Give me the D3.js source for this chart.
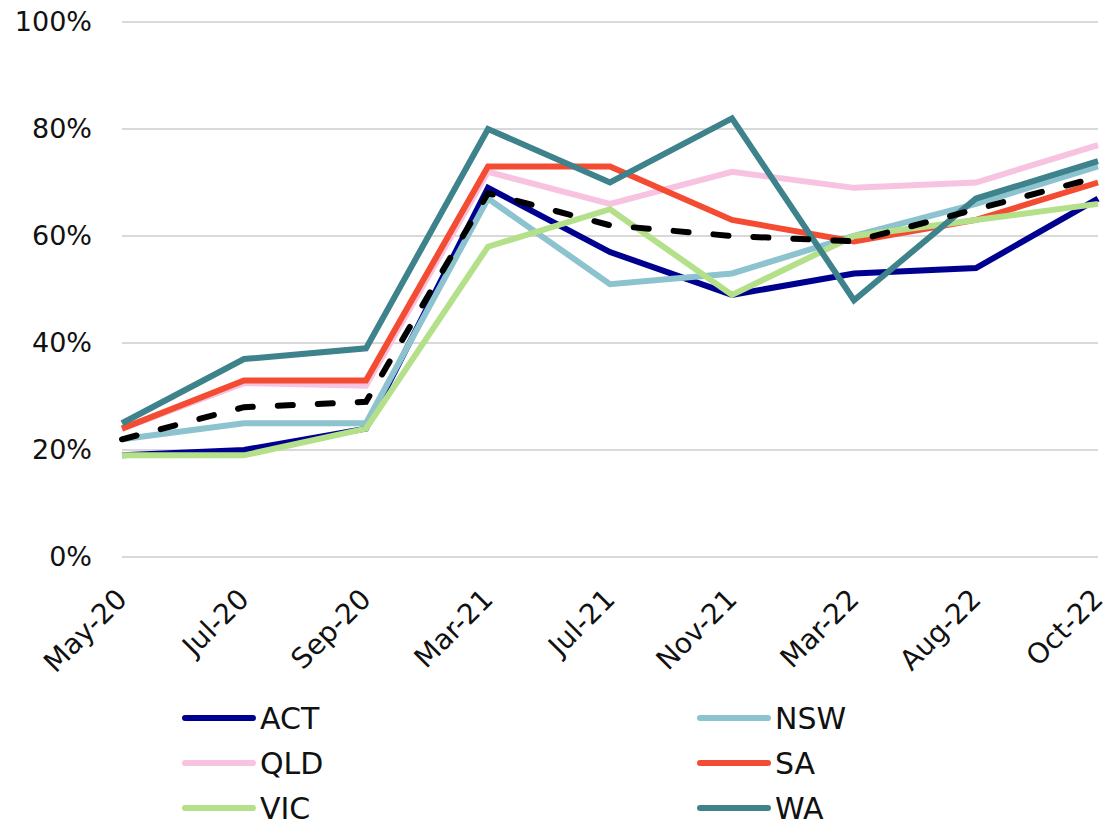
<!DOCTYPE html>
<html>
<head>
<meta charset="utf-8">
<script src="https://cdn.jsdelivr.net/npm/d3@7"></script>
<style>
body { margin: 0; background: #fff; }
</style>
</head>
<body>
<div id="chart"></div>
<script>
// data
var categories = ["May-20", "Jul-20", "Sep-20", "Mar-21", "Jul-21", "Nov-21", "Mar-22", "Aug-22", "Oct-22"];
var actValues = [19, 20, 24, 69, 57, 49, 53, 54, 67];
var nswValues = [22, 25, 25, 67, 51, 53, 60, 66, 73];
var qldValues = [24, 32.5, 32, 72, 66, 72, 69, 70, 77];
var saValues  = [24, 33, 33, 73, 73, 63, 59, 63, 70];
var vicValues = [19, 19, 24, 58, 65, 49, 60, 63, 66];
var waValues  = [25, 37, 39, 80, 70, 82, 48, 67, 74];
var avgValues = [22, 28, 29, 68, 62, 60, 59, 65, 71];
var yTicks = [0, 20, 40, 60, 80, 100];

var series = [
	{name: "ACT", values: actValues, color: "#000090"},
	{name: "NSW", values: nswValues, color: "#8cc3cf"},
	{name: "QLD", values: qldValues, color: "#f7c3e0"},
	{name: "SA",  values: saValues,  color: "#f44c32"},
	{name: "VIC", values: vicValues, color: "#b5e08a"},
	{name: "WA",  values: waValues,  color: "#3e828c"},
	{name: "Average", values: avgValues, color: "#000000", dashed: true}
];

var w = 1111, h = 823;
var margin = {left: 122, right: 13, top: 22, bottom: 266};

var svg = d3.select("#chart").append("svg")
	.attr("width", w)
	.attr("height", h);

var x = d3.scalePoint().domain(categories).range([margin.left, w - margin.right]);
var y = d3.scaleLinear().domain([0, 100]).range([h - margin.bottom, margin.top]);

var font = "'DejaVu Sans', sans-serif";

// gridlines
svg.append("g")
	.selectAll("line")
	.data(yTicks).enter()
	.append("line")
	.attr("x1", margin.left)
	.attr("x2", w - margin.right)
	.attr("y1", function(d) { return y(d); })
	.attr("y2", function(d) { return y(d); })
	.attr("stroke", "#d9d9d9")
	.attr("stroke-width", 2);

// y axis labels
var yAxis = d3.axisLeft(y).tickValues(yTicks).tickSize(0).tickPadding(0)
	.tickFormat(function(d) { return d + "%"; });
var yg = svg.append("g")
	.attr("transform", "translate(92,0)")
	.call(yAxis);
yg.select(".domain").remove();
yg.selectAll("text")
	.attr("font-family", font)
	.attr("font-size", "27px")
	.attr("fill", "#111");

// x axis labels, rotated
var xAxis = d3.axisBottom(x).tickSize(0).tickPadding(0);
var xg = svg.append("g")
	.attr("transform", "translate(0," + (h - margin.bottom) + ")")
	.call(xAxis);
xg.select(".domain").remove();
xg.selectAll("text")
	.attr("font-family", font)
	.attr("font-size", "28px")
	.attr("fill", "#111")
	.attr("dy", 0)
	.attr("transform", "translate(6,44) rotate(-45)")
	.style("text-anchor", "end");

var line = d3.line()
	.x(function(d, i) { return x(categories[i]); })
	.y(function(d) { return y(d); });

svg.append("g")
	.selectAll("path")
	.data(series).enter()
	.append("path")
	.attr("d", function(d) { return line(d.values); })
	.attr("fill", "none")
	.attr("stroke", function(d) { return d.color; })
	.attr("stroke-width", 6)
	.attr("stroke-linejoin", "miter")
	.attr("stroke-dasharray", function(d) { return d.dashed ? "15,25" : null; })
	.attr("stroke-linecap", function(d) { return d.dashed ? "round" : "butt"; });

// legend, two columns; only the first six entries fit in the picture
var legend = svg.append("g")
	.selectAll("g")
	.data(series.slice(0, 6)).enter()
	.append("g")
	.attr("transform", function(d, i) {
		return "translate(" + (i % 2 == 0 ? 185 : 700) + "," + (718 + Math.floor(i / 2) * 45) + ")";
	});

legend.append("line")
	.attr("x1", 0)
	.attr("x2", 68)
	.attr("stroke", function(d) { return d.color; })
	.attr("stroke-width", 6)
	.attr("stroke-linecap", "round");

legend.append("text")
	.attr("x", 75)
	.attr("dy", "0.36em")
	.text(function(d) { return d.name; })
	.attr("font-family", font)
	.attr("font-size", "30px")
	.attr("fill", "#111");
</script>
</body>
</html>
